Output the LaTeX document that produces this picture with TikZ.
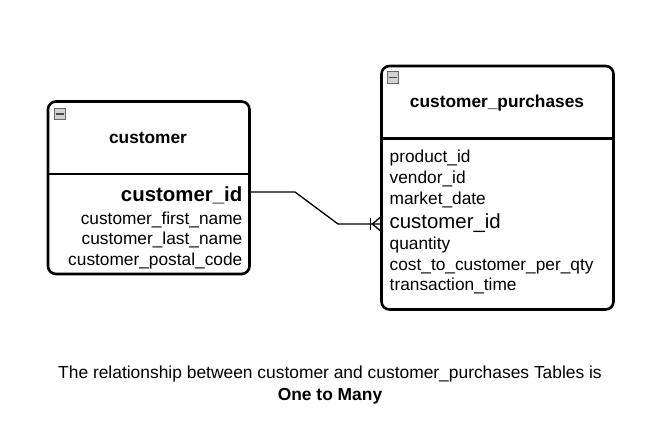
\documentclass[tikz,border=0pt]{standalone}
\usepackage{fontspec}
\setmainfont{Liberation Sans}
\begin{document}
\begin{tikzpicture}[x=1pt,y=-1pt,
  tbl/.style={draw=black, line width=2.6pt, rounded corners=8pt, inner sep=0pt, outer sep=0pt, anchor=north west, fill=white},
  divider/.style={draw=black, line width=2.6pt},
  ttl/.style={font=\fontsize{17.3}{20}\selectfont\bfseries, anchor=base, inner sep=0pt},
  fld/.style={font=\fontsize{17.3}{20}\selectfont, inner sep=0pt},
  bigfld/.style={font=\fontsize{20.4}{24}\selectfont, inner sep=0pt},
  icon/.style={draw=gray!80!black, fill=gray!35, line width=0.8pt, minimum size=11.5pt, inner sep=0pt},
  iconbar/.style={draw=black!70, line width=1.3pt},
  conn/.style={draw=black, line width=1.3pt},
  captext/.style={font=\fontsize{17.4}{20}\selectfont, anchor=base, inner sep=0pt}
]
\useasboundingbox (0,0) rectangle (669,436);

% left table
\node[tbl, minimum width=201.5pt, minimum height=172.5pt] (lt) at (48,101.5) {};
\draw[divider] (lt.west |- 0,174) -- (lt.east |- 0,174);
\node[icon] (licon) at (60,114) {};
\draw[iconbar] ([xshift=2pt]licon.west) -- ([xshift=-2pt]licon.east);
\node[ttl] (ltitle) at (148,143.3) {customer};
\node[bigfld, anchor=base east, font=\fontsize{20.4}{24}\selectfont\bfseries] (lcid) at (242.5,201.7) {customer\_id};
\node[fld, anchor=base east] (lf1) at (242.5,224) {customer\_first\_name};
\node[fld, anchor=base east] (lf2) at (242.5,244.5) {customer\_last\_name};
\node[fld, anchor=base east] (lf3) at (242.5,265.5) {customer\_postal\_code};

% right table
\node[tbl, minimum width=232pt, minimum height=243.5pt] (rt) at (381.5,66) {};
\draw[divider] (rt.west |- 0,138.3) -- (rt.east |- 0,138.3);
\node[icon] (ricon) at (393,77.5) {};
\draw[iconbar] ([xshift=2pt]ricon.west) -- ([xshift=-2pt]ricon.east);
\node[ttl] (rtitle) at (497,107.7) {customer\_purchases};
\node[fld, anchor=base west] (rf1) at (389.5,162.7) {product\_id};
\node[fld, anchor=base west] (rf2) at (389.5,183.3) {vendor\_id};
\node[fld, anchor=base west] (rf3) at (389.5,204.2) {market\_date};
\node[bigfld, anchor=base west] (rcid) at (389.5,228.3) {customer\_id};
\node[fld, anchor=base west] (rf5) at (389.5,249.3) {quantity};
\node[fld, anchor=base west] (rf6) at (389.5,270.2) {cost\_to\_customer\_per\_qty};
\node[fld, anchor=base west] (rf7) at (389.5,290.8) {transaction\_time};

% connector
\coordinate (b1) at (295,192);
\coordinate (b2) at (338,224);
\coordinate (cstart) at (lt.east |- 0,192);
\coordinate (cend) at (rt.west |- 0,224);
\draw[conn] (cstart) -- (b1) -- (b2) -- (cend);
\draw[conn] ([xshift=-11pt,yshift=-6pt]cend) -- ([xshift=-11pt,yshift=6pt]cend);
\draw[conn] ([xshift=-1pt,yshift=-7pt]cend) -- ([xshift=-9pt]cend) -- ([xshift=-1pt,yshift=7pt]cend);

% caption
\node[captext] (cap1) at (330,378.3) {The relationship between customer and customer\_purchases Tables is};
\node[captext, font=\fontsize{17.4}{20}\selectfont\bfseries] (cap2) at (330,400) {One to Many};
\end{tikzpicture}
\end{document}
